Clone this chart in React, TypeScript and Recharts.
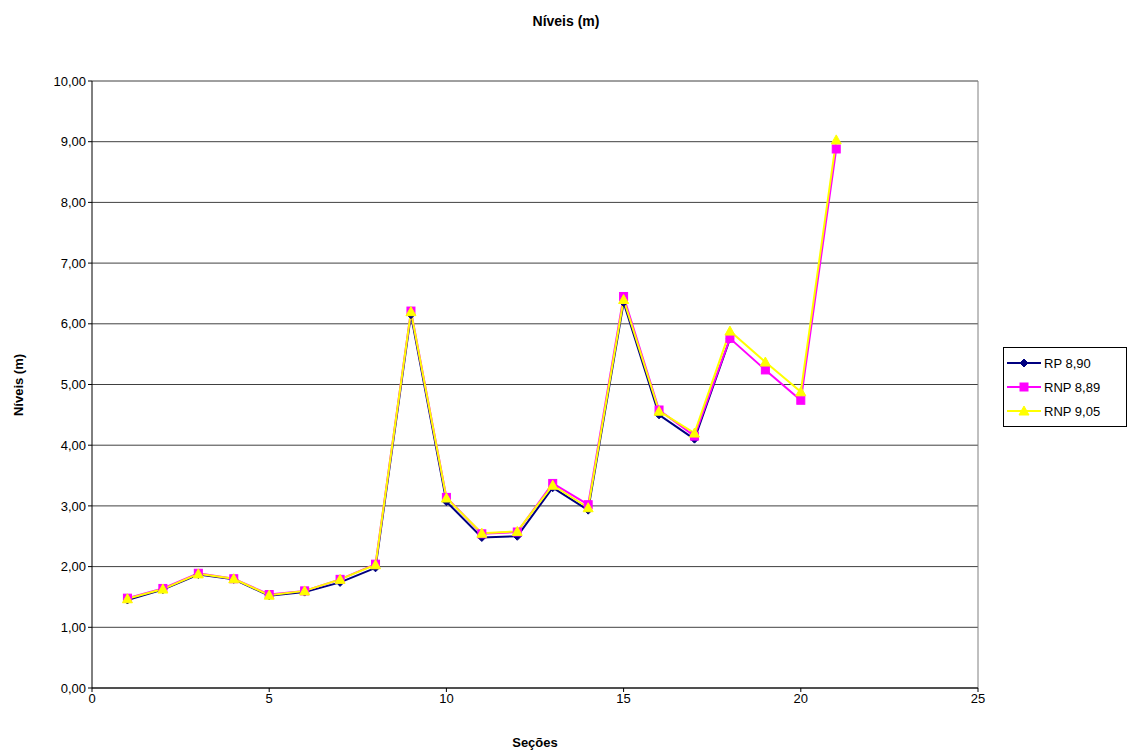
import { LineChart, Line, XAxis, YAxis, CartesianGrid, ReferenceLine } from 'recharts';

const secoes = [1, 2, 3, 4, 5, 6, 7, 8, 9, 10, 11, 12, 13, 14, 15, 16, 17, 18, 19, 20, 21];
const rp890 = [1.45, 1.62, 1.87, 1.79, 1.52, 1.58, 1.74, 1.98, 6.15, 3.07, 2.48, 2.5, 3.3, 2.93, 6.35, 4.5, 4.1, 5.75, null, null, null];
const rnp889 = [1.48, 1.64, 1.89, 1.8, 1.54, 1.6, 1.79, 2.04, 6.21, 3.14, 2.54, 2.57, 3.37, 3.02, 6.45, 4.58, 4.15, 5.76, 5.24, 4.74, 8.88];
const rnp905 = [1.47, 1.63, 1.88, 1.8, 1.53, 1.6, 1.79, 2.03, 6.2, 3.13, 2.55, 2.58, 3.34, 2.97, 6.4, 4.56, 4.2, 5.88, 5.37, 4.88, 9.03];
const xTicks = [0, 5, 10, 15, 20, 25];
const yTicks = [0, 1, 2, 3, 4, 5, 6, 7, 8, 9, 10];

const data = secoes.map((s, i) => ({ secao: s, rp: rp890[i], rnp1: rnp889[i], rnp2: rnp905[i] }));

const series = [
  { key: 'rp', name: 'RP 8,90', color: '#000080', shape: 'diamond' },
  { key: 'rnp1', name: 'RNP 8,89', color: '#FF00FF', shape: 'square' },
  { key: 'rnp2', name: 'RNP 9,05', color: '#FFFF00', shape: 'triangle' },
];

const font = 'Liberation Sans, Arial, sans-serif';

const Marker = ({ cx, cy, shape, color }: any) => {
  if (cx == null || cy == null) return null;
  if (shape === 'diamond')
    return <polygon points={`${cx},${cy - 4} ${cx + 4},${cy} ${cx},${cy + 4} ${cx - 4},${cy}`} fill={color} stroke={color} />;
  if (shape === 'square') return <rect x={cx - 4} y={cy - 4} width={8} height={8} fill={color} stroke={color} />;
  return <polygon points={`${cx},${cy - 5} ${cx + 5},${cy + 4} ${cx - 5},${cy + 4}`} fill={color} stroke={color} />;
};

const makeDot = (shape: string, color: string) => (props: any) =>
  <Marker key={`${shape}-${props.index}`} cx={props.cx} cy={props.cy} shape={shape} color={color} />;

const LegendBox = () => (
  <div style={{ position: 'absolute', left: 1003, top: 347, width: 120, border: '1px solid #000', background: '#fff', padding: '3px 0 3px 2px', fontFamily: font, fontSize: 13 }}>
    {series.map((s) => (
      <div key={s.key} style={{ display: 'flex', alignItems: 'center', height: 24 }}>
        <svg width={36} height={14}>
          <line x1={1} y1={7} x2={35} y2={7} stroke={s.color} strokeWidth={2} />
          <Marker cx={18} cy={7} shape={s.shape} color={s.color} />
        </svg>
        <span style={{ marginLeft: 2 }}>{s.name}</span>
      </div>
    ))}
  </div>
);

export default function App() {
  return (
    <div style={{ position: 'absolute', left: 0, top: 0, width: 1132, height: 756, background: '#fff' }}>
      <div style={{ position: 'absolute', top: 13, left: 0, width: 1132, textAlign: 'center', fontFamily: font, fontWeight: 'bold', fontSize: 14 }}>
        Níveis (m)
      </div>
      <div style={{ position: 'absolute', left: 18, top: 385, transform: 'translate(-50%, -50%) rotate(-90deg)', fontFamily: font, fontWeight: 'bold', fontSize: 13, whiteSpace: 'nowrap' }}>
        Níveis (m)
      </div>
      <div style={{ position: 'absolute', top: 735, left: 92, width: 886, textAlign: 'center', fontFamily: font, fontWeight: 'bold', fontSize: 13 }}>
        Seções
      </div>
      <LineChart width={1132} height={756} data={data} margin={{ top: 81, right: 154, left: 32, bottom: 38 }}>
        <CartesianGrid vertical={false} stroke="#000" strokeOpacity={0.75} />
        <XAxis
          dataKey="secao"
          type="number"
          domain={[0, 25]}
          ticks={xTicks}
          height={30}
          stroke="#000"
          tickSize={4}
          tick={{ fill: '#000', fontSize: 13, fontFamily: font }}
        />
        <YAxis
          domain={[0, 10]}
          ticks={yTicks}
          width={60}
          stroke="#000"
          tickSize={4}
          tick={{ fill: '#000', fontSize: 13, fontFamily: font }}
          tickFormatter={(v: number) => v.toFixed(2).replace('.', ',')}
        />
        <ReferenceLine x={25} stroke="#808080" />
        {series.map((s) => (
          <Line
            key={s.key}
            dataKey={s.key}
            name={s.name}
            stroke={s.color}
            strokeWidth={2}
            dot={makeDot(s.shape, s.color)}
            activeDot={false}
            isAnimationActive={false}
          />
        ))}
      </LineChart>
      <LegendBox />
    </div>
  );
}
